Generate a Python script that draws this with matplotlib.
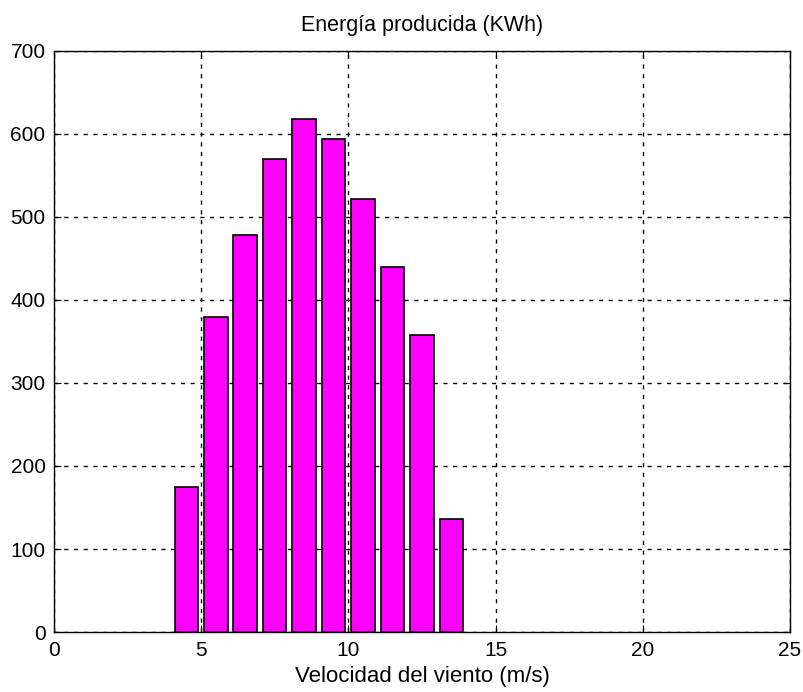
import matplotlib
matplotlib.use("Agg")
import matplotlib.pyplot as plt

# Data
wind_speed = [4.5, 5.5, 6.5, 7.5, 8.5, 9.5, 10.5, 11.5, 12.5, 13.5]
energy = [175, 379, 478, 569, 618, 593, 521, 439, 358, 136]
x_ticks = [0, 5, 10, 15, 20, 25]
y_ticks = [0, 100, 200, 300, 400, 500, 600, 700]

plt.rcParams['font.family'] = ['Liberation Sans', 'DejaVu Sans']

fig = plt.figure(figsize=(8.04, 6.92), dpi=100)
ax = fig.add_axes([0.067, 0.0865, 0.9156, 0.8405])

ax.bar(wind_speed, energy, width=0.8, color='#ff00ff', edgecolor='black',
       linewidth=1.2, zorder=2)

ax.set_xlim(0, 25)
ax.set_ylim(0, 700)
ax.set_xticks(x_ticks)
ax.set_yticks(y_ticks)
ax.set_axisbelow(True)
ax.grid(True, color='black', linestyle=(0, (3, 4)), linewidth=1.0)
ax.tick_params(direction='in', length=5, labelsize=15, colors='black',
               top=True, right=True)
ax.tick_params(axis='x', pad=6.5)
ax.tick_params(axis='y', pad=6)
for s in ax.spines.values():
    s.set_linewidth(1.0)
    s.set_color('black')

ax.set_title('Energía producida (KWh)', fontsize=15.5, pad=14)
ax.set_xlabel('Velocidad del viento (m/s)', fontsize=16, labelpad=4)

fig.savefig('out.png', dpi=100)
